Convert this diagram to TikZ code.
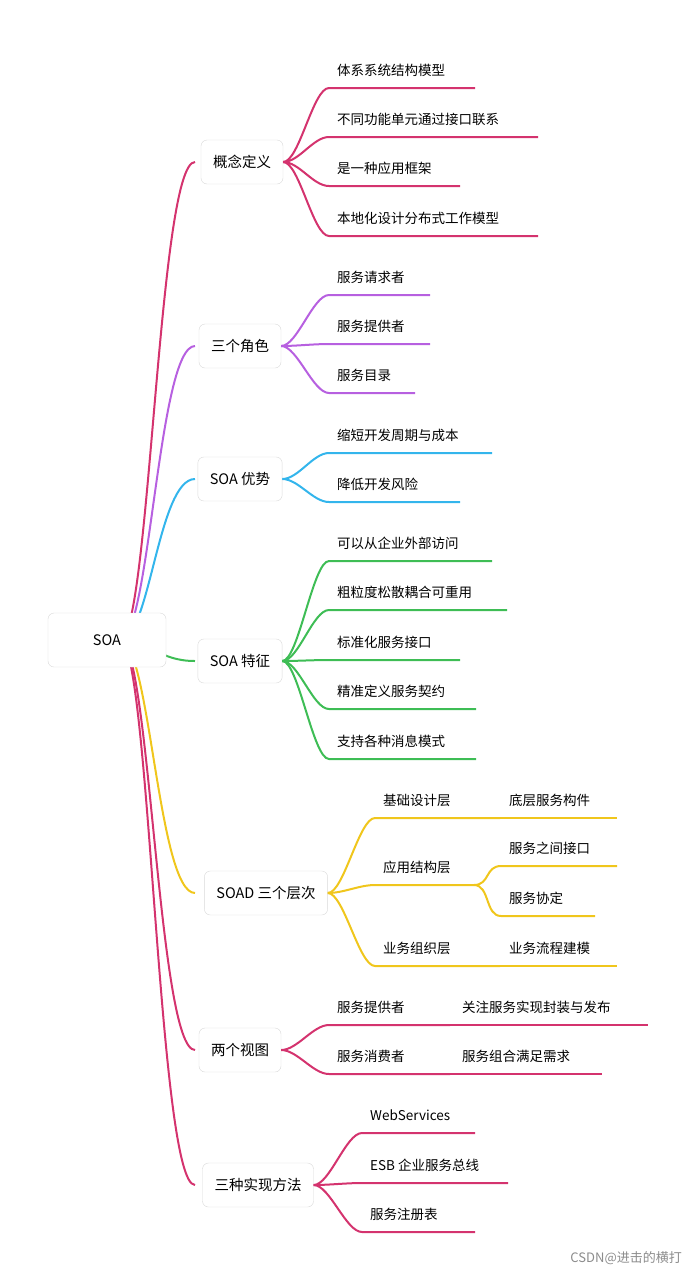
\documentclass[tikz,border=0pt]{standalone}
\usepackage{fontspec}
\setmainfont{Noto Sans CJK SC}
\begin{document}
\begin{tikzpicture}[x=1pt,y=-1pt,
  box/.style={draw=black!15,rounded corners=6pt,fill=white,minimum height=44pt,inner xsep=12pt,font=\fontsize{14.5}{16}\selectfont},
  lf/.style={anchor=west,inner sep=0pt,font=\fontsize{13.5}{15}\selectfont},
  ln/.style={line width=2pt}]
\definecolor{cr}{HTML}{D4336E}
\definecolor{pu}{HTML}{B760E0}
\definecolor{bl}{HTML}{33B5EC}
\definecolor{gr}{HTML}{3EBD55}
\definecolor{ye}{HTML}{F0C61C}
\useasboundingbox (0,0) rectangle (695,1280);
\coordinate (o) at (120,640);
% branch boxes (positions)
\path (242,162) coordinate (p1) (240,346) coordinate (p2) (240,479) coordinate (p3)
 (240,661) coordinate (p4) (266,893) coordinate (p5) (240,1050) coordinate (p6) (258,1185) coordinate (p7);
\newcommand\rootline[3]{\draw[ln,#1] (o) .. controls (150,640) and (158,#2) .. (#3);}
\rootline{cr}{162}{195,162}
\rootline{pu}{346}{195,346}
\rootline{bl}{479}{195,479}
\rootline{gr}{661}{195,661}
\rootline{ye}{893}{195,893}
\rootline{cr}{1050}{195,1050}
\rootline{cr}{1185}{195,1185}
\node[box,minimum width=118pt,minimum height=54pt] (root) at (107,640) {SOA};
\node[box] (b1) at (p1) {概念定义};
\node[box] (b2) at (p2) {三个角色};
\node[box] (b3) at (p3) {SOA 优势};
\node[box] (b4) at (p4) {SOA 特征};
\node[box] (b5) at (p5) {SOAD 三个层次};
\node[box] (b6) at (p6) {两个视图};
\node[box] (b7) at (p7) {三种实现方法};
% leaf: name, from coordinate, x, ytext, xend, color, text
\newcommand\leaf[7]{%
  \node[lf] (#1) at (#3,#4) {#7};
  \draw[ln,#6] (#2) .. controls ([xshift=16pt]#2) and (#3-24,#4+18) .. (#3-8,#4+18) -- (#5,#4+18);}
\leaf{a1}{b1.east}{337}{70}{475}{cr}{体系系统结构模型}
\leaf{a2}{b1.east}{337}{119}{538}{cr}{不同功能单元通过接口联系}
\leaf{a3}{b1.east}{337}{168}{460}{cr}{是一种应用框架}
\leaf{a4}{b1.east}{337}{218}{538}{cr}{本地化设计分布式工作模型}
\leaf{c1}{b2.east}{337}{277}{430}{pu}{服务请求者}
\leaf{c2}{b2.east}{337}{326}{430}{pu}{服务提供者}
\leaf{c3}{b2.east}{337}{375}{415}{pu}{服务目录}
\leaf{d1}{b3.east}{337}{435}{492}{bl}{缩短开发周期与成本}
\leaf{d2}{b3.east}{337}{484}{460}{bl}{降低开发风险}
\leaf{e1}{b4.east}{337}{543}{492}{gr}{可以从企业外部访问}
\leaf{e2}{b4.east}{337}{592}{507}{gr}{粗粒度松散耦合可重用}
\leaf{e3}{b4.east}{337}{642}{460}{gr}{标准化服务接口}
\leaf{e4}{b4.east}{337}{691}{476}{gr}{精准定义服务契约}
\leaf{e5}{b4.east}{337}{741}{476}{gr}{支持各种消息模式}
\leaf{f1}{b5.east}{383}{800}{500}{ye}{基础设计层}
\leaf{f2}{b5.east}{383}{867}{474}{ye}{应用结构层}
\leaf{f3}{b5.east}{383}{948}{500}{ye}{业务组织层}
\coordinate (f1e) at (500,818); \coordinate (f2e) at (474,885); \coordinate (f3e) at (500,966);
\node[lf] (g1) at (509,800) {底层服务构件}; \draw[ln,ye] (f1e) -- (617,818);
\leaf{g2}{f2e}{509}{848}{617}{ye}{服务之间接口}
\leaf{g3}{f2e}{509}{898}{595}{ye}{服务协定}
\node[lf] (g4) at (509,948) {业务流程建模}; \draw[ln,ye] (f3e) -- (617,966);
\leaf{h1}{b6.east}{337}{1007}{450}{cr}{服务提供者}
\leaf{h2}{b6.east}{337}{1056}{450}{cr}{服务消费者}
\node[lf] (i1) at (462,1007) {关注服务实现封装与发布}; \draw[ln,cr] (450,1025) -- (648,1025);
\node[lf] (i2) at (462,1056) {服务组合满足需求}; \draw[ln,cr] (450,1074) -- (602,1074);
\leaf{k1}{b7.east}{370}{1115}{475}{cr}{WebServices}
\leaf{k2}{b7.east}{370}{1165}{508}{cr}{ESB 企业服务总线}
\leaf{k3}{b7.east}{370}{1214}{475}{cr}{服务注册表}
\node[anchor=east,inner sep=0pt,text=black!45,font=\fontsize{13}{15}\selectfont] (wm) at (682,1258) {CSDN@进击的横打};
\end{tikzpicture}
\end{document}
